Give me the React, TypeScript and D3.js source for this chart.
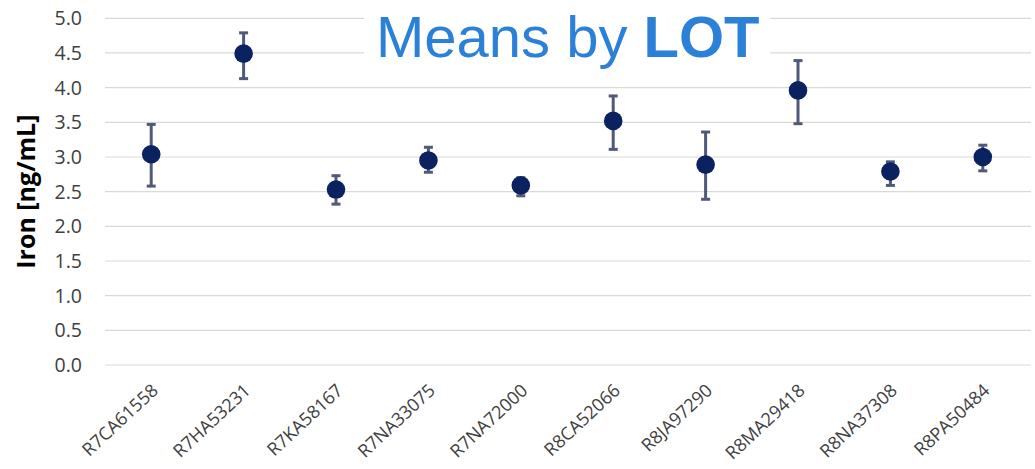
import * as d3 from 'd3';

const lots = ['R7CA61558', 'R7HA53231', 'R7KA58167', 'R7NA33075', 'R7NA72000', 'R8CA52066', 'R8JA97290', 'R8MA29418', 'R8NA37308', 'R8PA50484'];
const means = [3.04, 4.49, 2.53, 2.95, 2.59, 3.52, 2.89, 3.96, 2.79, 3.0];
const upper = [3.47, 4.79, 2.73, 3.14, 2.7, 3.88, 3.36, 4.39, 2.93, 3.17];
const lower = [2.58, 4.13, 2.32, 2.78, 2.44, 3.11, 2.39, 3.48, 2.59, 2.8];
const yTicks = [0, 0.5, 1, 1.5, 2, 2.5, 3, 3.5, 4, 4.5, 5];

const width = 1035;
const height = 469;

const App = () => {
  const x = d3.scaleBand().domain(lots).range([105, 1029]);
  const y = d3.scaleLinear().domain([0, 5]).range([365, 18.3]);
  const cx = (d: string) => (x(d) as number) + x.bandwidth() / 2;
  const font = '"Open Sans", Lato, sans-serif';

  return (
    <div style={{ position: 'absolute', left: 0, top: 0 }}>
      <svg width={width} height={height} style={{ display: 'block', background: '#fff' }}>
        {/* grid */}
        {yTicks.map(t => (
          <g key={t}>
            <line x1={105} x2={1031} y1={y(t)} y2={y(t)} stroke="#d9d9d9" strokeWidth={1.2} />
            <text x={82} y={y(t)} dy="0.36em" textAnchor="end" fontFamily={font} fontSize={19.5} fill="#404040">
              {d3.format('.1f')(t)}
            </text>
          </g>
        ))}
        <text transform={`translate(35,${y(2.5)}) rotate(-90)`} textAnchor="middle" fontFamily={font} fontWeight="bold" fontSize={25} fill="#000">
          Iron [ng/mL]
        </text>

        {/* title box */}
        <rect x={364} y={0} width={406} height={62} fill="#fff" />
        <text x={376} y={57} fontFamily='"Liberation Sans", Arial, sans-serif' fontSize={58} fill="#2b80d8">
          Means by <tspan fontWeight="bold">LOT</tspan>
        </text>

        {/* error bars */}
        {lots.map((d, i) => (
          <g key={d} stroke="#505a78" strokeWidth={3}>
            <line x1={cx(d)} x2={cx(d)} y1={y(upper[i])} y2={y(lower[i])} />
            <line x1={cx(d) - 4.5} x2={cx(d) + 4.5} y1={y(upper[i])} y2={y(upper[i])} />
            <line x1={cx(d) - 4.5} x2={cx(d) + 4.5} y1={y(lower[i])} y2={y(lower[i])} />
          </g>
        ))}
        {lots.map((d, i) => (
          <circle key={d} cx={cx(d)} cy={y(means[i])} r={9.3} fill="#0b2260" />
        ))}

        {/* x labels */}
        {lots.map(d => (
          <text
            key={d}
            transform={`translate(${cx(d) + 8},${y(0) + 27}) rotate(-43)`}
            textAnchor="end"
            fontFamily={font}
            fontSize={18}
            fill="#404040"
          >
            {d}
          </text>
        ))}
      </svg>
    </div>
  );
};

export default App;
